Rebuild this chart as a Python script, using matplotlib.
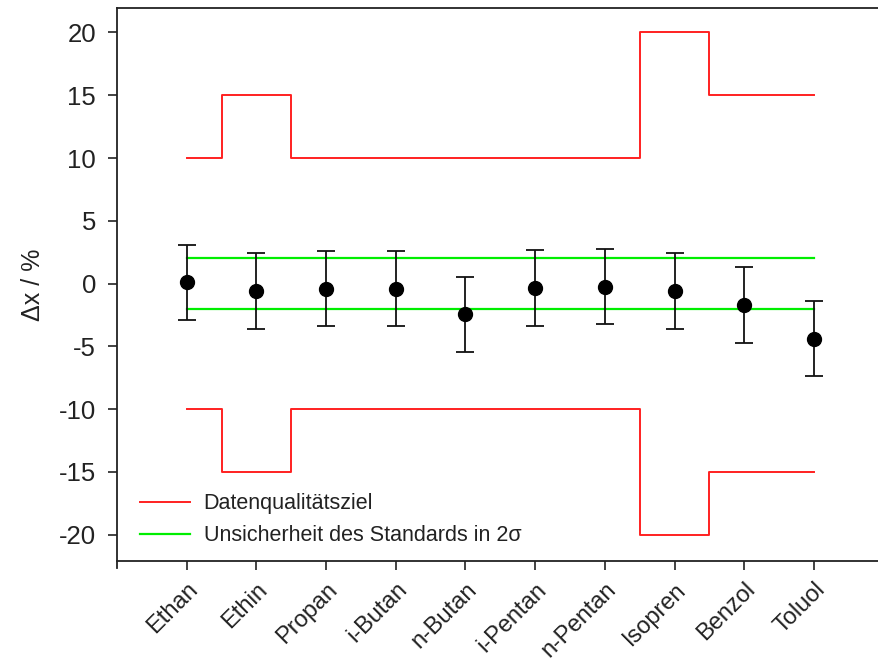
import matplotlib
matplotlib.use("Agg")
import matplotlib.pyplot as plt
import matplotlib.transforms as mtransforms
import numpy as np

plt.rcParams['font.family'] = ['Liberation Sans', 'DejaVu Sans']

# Compounds and measured deviations
compounds = ["Ethan", "Ethin", "Propan", "i-Butan", "n-Butan",
             "i-Pentan", "n-Pentan", "Isopren", "Benzol", "Toluol"]
deviation = [0.1, -0.6, -0.4, -0.4, -2.45, -0.35, -0.25, -0.6, -1.7, -4.4]
deviation_err = [3.0, 3.0, 3.0, 3.0, 3.0, 3.0, 3.0, 3.0, 3.0, 3.0]

# Data quality objective (upper / lower limit) per compound
dqo_upper = [10, 15, 10, 10, 10, 10, 10, 20, 15, 15]
dqo_lower = [-10, -15, -10, -10, -10, -10, -10, -20, -15, -15]

# Uncertainty of the standard (2 sigma)
std_unc_upper = [2, 2, 2, 2, 2, 2, 2, 2, 2, 2]
std_unc_lower = [-2, -2, -2, -2, -2, -2, -2, -2, -2, -2]

y_ticks = [-20, -15, -10, -5, 0, 5, 10, 15, 20]

text_color = "#222222"

fig = plt.figure(figsize=(8.79, 6.6), dpi=100)
ax = fig.add_axes([0.1331, 0.15, 0.8722, 0.8379])

x = np.arange(len(compounds))

ax.step(x, dqo_upper, where="mid", color="#ff2020", lw=1.4, label="Datenqualitätsziel")
ax.step(x, dqo_lower, where="mid", color="#ff2020", lw=1.4)
ax.plot(x, std_unc_upper, color="#00ee00", lw=1.6, label="Unsicherheit des Standards in 2σ")
ax.plot(x, std_unc_lower, color="#00ee00", lw=1.6)

ax.errorbar(x, deviation, yerr=deviation_err, fmt="o", color="black",
            markersize=10, ecolor="#111111", elinewidth=1.3, capsize=6.5,
            capthick=1.3, zorder=5)

ax.set_xlim(-1, 10)
ax.set_ylim(-22.1, 21.95)
ax.set_yticks(y_ticks)
ax.set_yticklabels([str(t) for t in y_ticks])
ax.set_xticks(x)
ax.set_xticklabels(compounds, rotation=45, ha="right", rotation_mode="anchor")

# nudge the rotated category labels slightly left/up
shift = mtransforms.ScaledTranslation(-5 / 100, 5 / 100, fig.dpi_scale_trans)
for lbl in ax.get_xticklabels():
    lbl.set_transform(lbl.get_transform() + shift)

for s in ["left", "bottom", "top"]:
    ax.spines[s].set_color(text_color)
    ax.spines[s].set_linewidth(1.3)
ax.spines["right"].set_visible(False)
ax.spines["left"].set_bounds(-22.65, 21.95)

ax.tick_params(axis="both", direction="out", length=6.5, width=1.2,
               colors=text_color, labelcolor=text_color)
ax.tick_params(axis="y", pad=8.5, labelsize=18.5)
ax.tick_params(axis="x", pad=6, labelsize=17)

ax.set_ylabel("Δx / %", fontsize=18, color=text_color, labelpad=10)

ax.legend(loc="lower left", bbox_to_anchor=(0.005, -0.008), frameon=False,
          fontsize=15.5, handlelength=2.3, handletextpad=0.65, labelspacing=0.5,
          labelcolor=text_color)

fig.savefig("out.png", dpi=100)
